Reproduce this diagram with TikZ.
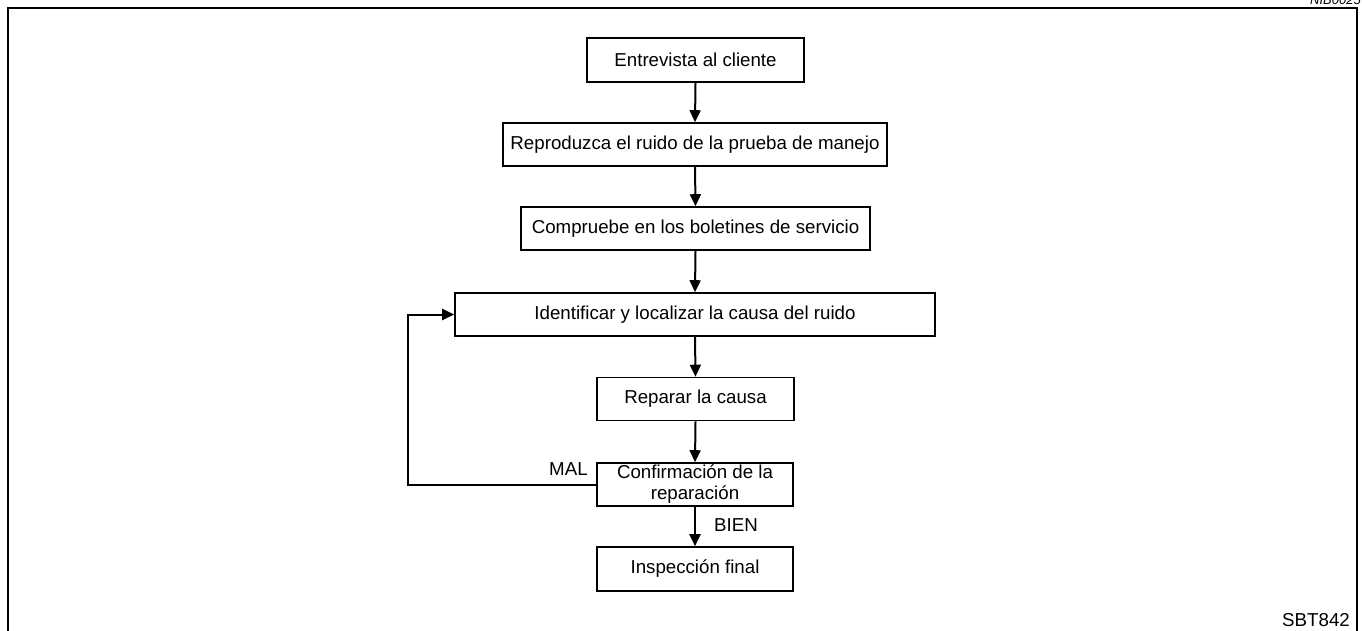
\documentclass[tikz,border=0pt]{standalone}
\usepackage{fontspec}
\setmainfont{Liberation Sans}
\usetikzlibrary{arrows.meta}
\begin{document}
\begin{tikzpicture}[x=1pt,y=-1pt,
  every node/.style={font=\fontsize{18.7}{21}\selectfont},
  box/.style={draw, line width=1.6pt, inner sep=0pt, align=center},
  arr/.style={line width=2pt, -{Triangle[length=12pt,width=11pt]}},
  lbl/.style={inner sep=0pt, anchor=base west}]
\useasboundingbox (0,0) rectangle (1362,630);
\begin{scope}
\clip (0,0) rectangle (1362,630);
\node[anchor=base east, inner sep=0pt, font=\fontsize{13}{15}\selectfont\itshape] (code) at (1361,4) {NIB0025};
\end{scope}
\draw[line width=1.5pt] (8,631) -- (8,8) -- (1357,8) -- (1357,631);
\node[box, minimum width=217pt, minimum height=44pt] (e1) at (695.5,60) {Entrevista al cliente};
\node[box, minimum width=384pt, minimum height=43pt] (e2) at (695,144.5) {Reproduzca el ruido de la prueba de manejo};
\node[box, minimum width=349pt, minimum height=43pt] (e3) at (695.5,228.5) {Compruebe en los boletines de servicio};
\node[box, minimum width=480pt, minimum height=43pt] (e4) at (695,314.5) {Identificar y localizar la causa del ruido};
\node[box, minimum width=197pt, minimum height=43pt] (e5) at (695.5,399) {Reparar la causa};
\node[box, minimum width=196pt, minimum height=43pt] (e6) at (695,484.5) {Confirmación de la\\reparación};
\node[box, minimum width=196pt, minimum height=44pt] (e7) at (695,569) {Inspección final};
\coordinate (lp) at (408,485);
\draw[arr] (e1.south) -- (e2.north);
\draw[arr] (e2.south) -- (e3.north);
\draw[arr] (e3.south) -- (e4.north);
\draw[arr] (e4.south) -- (e5.north);
\draw[arr] (e5.south) -- (e6.north);
\draw[arr] (e6.south) -- (e7.north);
\draw[arr] (e6.west) -- (e6.west -| lp) |- (e4.west);
\node[lbl] (mal) at (549,475) {MAL};
\node[lbl] (bien) at (714,531) {BIEN};
\node[inner sep=0pt, anchor=base east] (sbt) at (1350,626) {SBT842};
\end{tikzpicture}
\end{document}
